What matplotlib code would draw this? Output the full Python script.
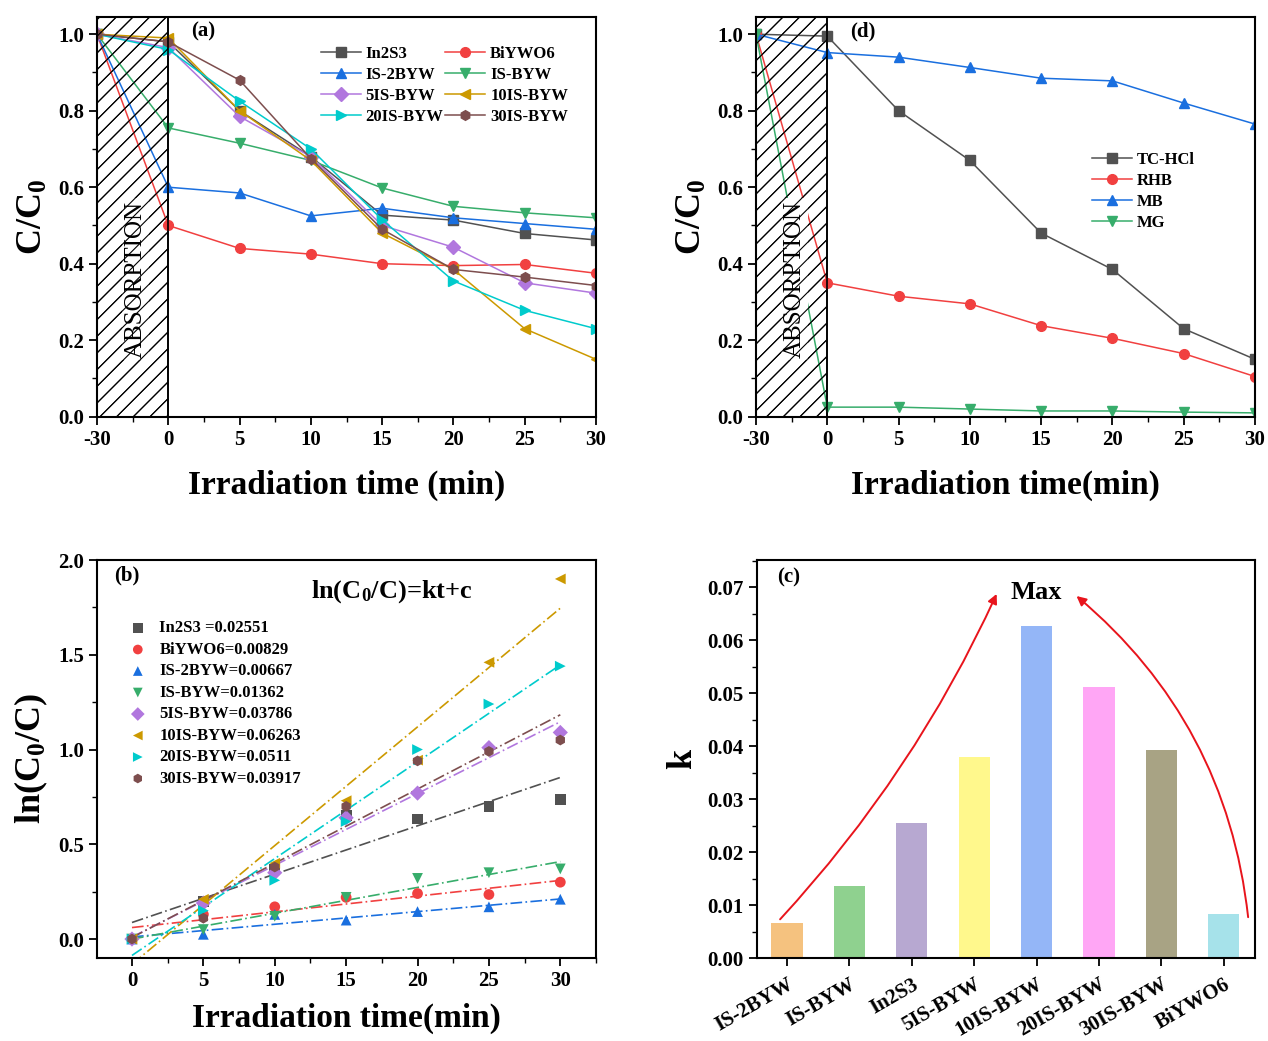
import numpy as np
import matplotlib
matplotlib.use("Agg")
import matplotlib.pyplot as plt
from matplotlib.patches import Rectangle
from matplotlib.ticker import MultipleLocator

plt.rcParams['font.family'] = ['Liberation Serif', 'DejaVu Serif']
plt.rcParams['font.weight'] = 'bold'
plt.rcParams['mathtext.fontset'] = 'custom'
plt.rcParams['mathtext.rm'] = 'Liberation Serif:bold'
plt.rcParams['mathtext.bf'] = 'Liberation Serif:bold'
plt.rcParams['mathtext.it'] = 'Liberation Serif:bold:italic'
plt.rcParams['hatch.linewidth'] = 0.8

# ---------------- data ----------------
time_labels = ["-30", "0", "5", "10", "15", "20", "25", "30"]
time_pos = [-5, 0, 5, 10, 15, 20, 25, 30]   # -30 min drawn in a compressed slot

samples = ["In2S3", "BiYWO6", "IS-2BYW", "IS-BYW", "5IS-BYW", "10IS-BYW", "20IS-BYW", "30IS-BYW"]
colors = ["#515151", "#F14040", "#1A6FDF", "#37AD6B", "#B177DE", "#CC9900", "#00CBCC", "#7D4E4E"]
markers = ["s", "o", "^", "v", "D", "<", ">", "h"]

c_In2S3 = [1.0, 0.98, 0.80, 0.68, 0.527, 0.514, 0.479, 0.462]
c_BiYWO6 = [1.0, 0.50, 0.44, 0.425, 0.40, 0.395, 0.398, 0.375]
c_IS2BYW = [1.0, 0.60, 0.585, 0.525, 0.545, 0.52, 0.505, 0.49]
c_ISBYW = [1.0, 0.755, 0.715, 0.67, 0.598, 0.55, 0.533, 0.52]
c_5IS = [1.0, 0.965, 0.785, 0.68, 0.50, 0.443, 0.35, 0.323]
c_10IS = [1.0, 0.99, 0.80, 0.67, 0.48, 0.385, 0.23, 0.15]
c_20IS = [1.0, 0.96, 0.825, 0.70, 0.515, 0.355, 0.278, 0.23]
c_30IS = [1.0, 0.98, 0.88, 0.675, 0.49, 0.385, 0.365, 0.343]
curves_a = [c_In2S3, c_BiYWO6, c_IS2BYW, c_ISBYW, c_5IS, c_10IS, c_20IS, c_30IS]

dyes = ["TC-HCl", "RHB", "MB", "MG"]
dye_colors = ["#515151", "#F14040", "#1A6FDF", "#37AD6B"]
dye_markers = ["s", "o", "^", "v"]
c_TC = [1.0, 0.995, 0.80, 0.67, 0.48, 0.385, 0.23, 0.15]
c_RHB = [1.0, 0.35, 0.315, 0.295, 0.238, 0.205, 0.165, 0.105]
c_MB = [1.0, 0.952, 0.94, 0.913, 0.885, 0.878, 0.82, 0.765]
c_MG = [1.0, 0.025, 0.025, 0.02, 0.015, 0.015, 0.012, 0.01]
curves_d = [c_TC, c_RHB, c_MB, c_MG]

t_b = [0, 5, 10, 15, 20, 25, 30]
ln_In2S3 = [0, 0.20, 0.37, 0.65, 0.634, 0.70, 0.736]
ln_BiYWO6 = [0, 0.13, 0.17, 0.22, 0.24, 0.235, 0.30]
ln_IS2BYW = [0, 0.025, 0.13, 0.10, 0.145, 0.17, 0.21]
ln_ISBYW = [0, 0.05, 0.12, 0.22, 0.32, 0.35, 0.37]
ln_5IS = [0, 0.19, 0.35, 0.64, 0.77, 1.01, 1.09]
ln_10IS = [0, 0.21, 0.40, 0.73, 0.944, 1.46, 1.90]
ln_20IS = [0, 0.15, 0.31, 0.62, 1.00, 1.24, 1.44]
ln_30IS = [0, 0.11, 0.38, 0.70, 0.94, 0.99, 1.05]
curves_b = [ln_In2S3, ln_BiYWO6, ln_IS2BYW, ln_ISBYW, ln_5IS, ln_10IS, ln_20IS, ln_30IS]
k_values = [0.02551, 0.00829, 0.00667, 0.01362, 0.03786, 0.06263, 0.0511, 0.03917]
k_text = ["0.02551", "0.00829", "0.00667", "0.01362", "0.03786", "0.06263", "0.0511", "0.03917"]
legend_b = ["In2S3 =", "BiYWO6=", "IS-2BYW=", "IS-BYW=", "5IS-BYW=", "10IS-BYW=", "20IS-BYW=", "30IS-BYW="]

bar_names = ["IS-2BYW", "IS-BYW", "In2S3", "5IS-BYW", "10IS-BYW", "20IS-BYW", "30IS-BYW", "BiYWO6"]
bar_k = [0.00667, 0.01362, 0.02551, 0.03786, 0.06263, 0.0511, 0.03917, 0.00829]
bar_colors = ["#F5C27F", "#8FD18F", "#B7A8D1", "#FFF88C", "#94B6F7", "#FFA6F5", "#A8A384", "#A6E2EA"]

# ---------------- figure ----------------
fig = plt.figure(figsize=(12.68, 10.41), dpi=100)
W, H = 1268.0, 1041.0

def add_ax(l, t, r, b):
    return fig.add_axes([l / W, 1 - b / H, (r - l) / W, (b - t) / H])

ax_a = add_ax(97, 17, 596, 416.7)
ax_d = add_ax(756, 17, 1255, 416.7)
ax_b = add_ax(97, 560, 596, 958)
ax_c = add_ax(757, 560, 1255, 958)

TICK_FS = 15
LABEL_FS = 24

def style_axis(ax):
    for s in ax.spines.values():
        s.set_linewidth(1.5)
    ax.tick_params(which='major', direction='out', length=6, width=1.3, labelsize=TICK_FS)
    ax.tick_params(which='minor', direction='out', length=3.5, width=1.0)
    for lab in ax.get_xticklabels() + ax.get_yticklabels():
        lab.set_fontweight('bold')

def time_panel(ax, curves, names, cols, mks, xlabel, label, legend_kw, ncol, order):
    ax.set_xlim(-5, 30)
    ax.set_ylim(0, 1.045)
    ax.add_patch(Rectangle((-5, 0), 5, 1.045, facecolor='white', edgecolor='black',
                           hatch='//', linewidth=1.2, zorder=1))
    handles = []
    for ys, n, c, m in zip(curves, names, cols, mks):
        h, = ax.plot(time_pos, ys, color=c, marker=m, markersize=7, lw=1.1, label=n, zorder=2)
        handles.append(h)
    ax.text(-2.3, 0.36, "ABSORPTION", rotation=90, ha='center', va='center', fontsize=18,
            fontweight='normal', zorder=3,
            bbox=dict(facecolor='white', edgecolor='none', pad=2))
    ax.add_patch(Rectangle((-5, 0), 5, 1.045, facecolor='none', edgecolor='black',
                           hatch='//', linewidth=1.2, zorder=3.5))
    ax.set_xticks(time_pos)
    ax.set_xticklabels(time_labels)
    ax.xaxis.set_minor_locator(MultipleLocator(2.5))
    ax.set_yticks([0.0, 0.2, 0.4, 0.6, 0.8, 1.0])
    ax.set_yticklabels(["0.0", "0.2", "0.4", "0.6", "0.8", "1.0"])
    ax.yaxis.set_minor_locator(MultipleLocator(0.1))
    ax.set_xlabel(xlabel, fontsize=LABEL_FS, fontweight='bold', labelpad=14)
    ax.set_ylabel("C/C$_0$", fontsize=LABEL_FS + 2, fontweight='bold', labelpad=6)
    ax.text(0.188, 0.965, label, transform=ax.transAxes, fontsize=15, fontweight='bold', va='center')
    hs = [handles[i] for i in order]
    leg = ax.legend(handles=hs, ncol=ncol, frameon=False, prop={'weight': 'bold', 'size': 12},
                    handlelength=2.4, handletextpad=0.3, columnspacing=0.1, labelspacing=0.3,
                    borderaxespad=0, **legend_kw)
    leg.set_zorder(5)
    style_axis(ax)

time_panel(ax_a, curves_a, samples, colors, markers, "Irradiation time (min)", "(a)",
           dict(loc='upper left', bbox_to_anchor=(0.435, 0.945)), 2, [0, 2, 4, 6, 1, 3, 5, 7])
time_panel(ax_d, curves_d, dyes, dye_colors, dye_markers, "Irradiation time(min)", "(d)",
           dict(loc='upper left', bbox_to_anchor=(0.66, 0.68)), 1, [0, 1, 2, 3])

# ---------------- panel (b) ----------------
ax = ax_b
ax.set_xlim(-2.45, 32.5)
ax.set_ylim(-0.1, 2.0)
tb = np.array(t_b, dtype=float)
xfit = np.linspace(0, 30, 50)
handles_b = []
for ys, n, kv, kt, c, m in zip(curves_b, legend_b, k_values, k_text, colors, markers):
    ys = np.array(ys)
    intercept = ys.mean() - kv * tb.mean()
    ax.plot(xfit, kv * xfit + intercept, color=c, lw=1.2, ls=(0, (7, 2, 1, 2)), zorder=2)
    h = ax.scatter(tb, ys, color=c, marker=m, s=60, zorder=3, label=n + kt, edgecolors='none')
    handles_b.append(h)
ax.set_xticks([0, 5, 10, 15, 20, 25, 30])
ax.xaxis.set_minor_locator(MultipleLocator(2.5))
ax.set_yticks([0.0, 0.5, 1.0, 1.5, 2.0])
ax.set_yticklabels(["0.0", "0.5", "1.0", "1.5", "2.0"])
ax.yaxis.set_minor_locator(MultipleLocator(0.25))
ax.set_xlabel("Irradiation time(min)", fontsize=LABEL_FS, fontweight='bold', labelpad=8)
ax.set_ylabel("ln(C$_0$/C)", fontsize=LABEL_FS + 2, fontweight='bold', labelpad=6)
ax.text(0.035, 0.96, "(b)", transform=ax.transAxes, fontsize=15, fontweight='bold', va='center')
ax.text(0.59, 0.92, "ln(C$_0$/C)=kt+c", transform=ax.transAxes, fontsize=19, fontweight='bold',
        ha='center', va='center')
ax.legend(handles=handles_b, loc='upper left', bbox_to_anchor=(0.035, 0.865), frameon=False,
          prop={'weight': 'bold', 'size': 12}, handletextpad=0.3, labelspacing=0.33,
          borderaxespad=0, markerscale=0.9)
style_axis(ax)

# ---------------- panel (c) ----------------
ax = ax_c
xb = np.arange(len(bar_names))
ax.bar(xb, bar_k, width=0.5, color=bar_colors, zorder=2)
ax.set_xlim(-0.48, 7.5)
ax.set_ylim(0, 0.0751)
ax.set_xticks(xb)
ax.set_xticklabels(bar_names, rotation=30, ha='right', rotation_mode='anchor')
ax.set_yticks([0, 0.01, 0.02, 0.03, 0.04, 0.05, 0.06, 0.07])
ax.set_yticklabels(["0.00", "0.01", "0.02", "0.03", "0.04", "0.05", "0.06", "0.07"])
ax.yaxis.set_minor_locator(MultipleLocator(0.005))
ax.set_ylabel("k", fontsize=LABEL_FS + 2, fontweight='bold', labelpad=6)
ax.text(0.04, 0.955, "(c)", transform=ax.transAxes, fontsize=15, fontweight='bold', va='center')
ax.text(4, 0.0690, "Max", fontsize=19, fontweight='bold', ha='center', va='center')
ax.annotate("", xy=(3.36, 0.0687), xytext=(-0.11, 0.0073),
            arrowprops=dict(arrowstyle='-|>', color='#E8141C', lw=1.4, mutation_scale=14,
                            connectionstyle='arc3,rad=0.08', shrinkA=0, shrinkB=0))
ax.annotate("", xy=(4.64, 0.0683), xytext=(7.39, 0.0077),
            arrowprops=dict(arrowstyle='-|>', color='#E8141C', lw=1.4, mutation_scale=14,
                            connectionstyle='arc3,rad=0.2', shrinkA=0, shrinkB=0))
style_axis(ax)
ax.tick_params(axis='x', which='major', pad=6)

fig.savefig("out.png", dpi=100)
